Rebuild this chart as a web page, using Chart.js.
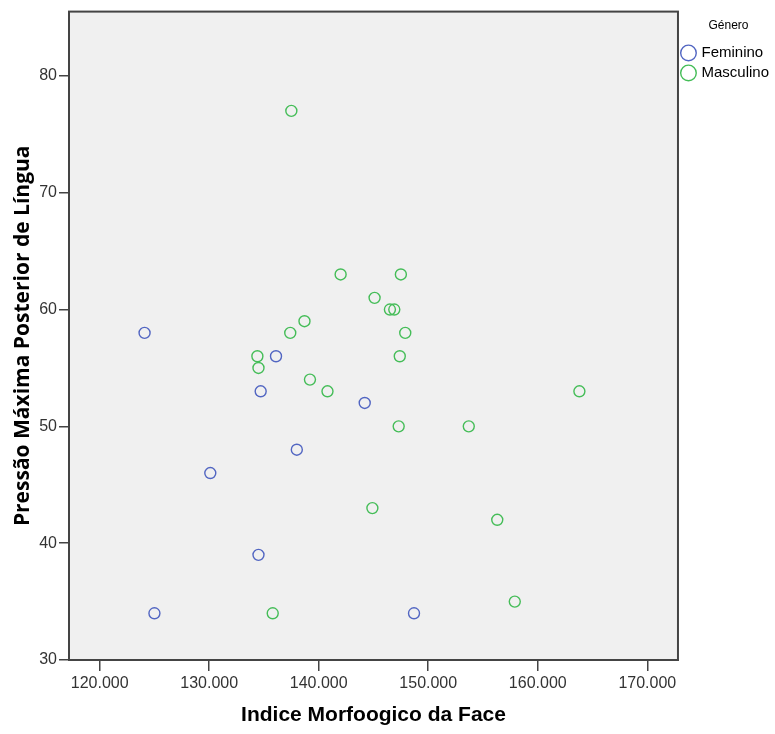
<!DOCTYPE html>
<html>
<head>
<meta charset="utf-8">
<script src="https://cdn.jsdelivr.net/npm/chart.js@4/dist/chart.umd.min.js"></script>
<style>
  body { margin: 0; background: #fff; }
</style>
</head>
<body>
<canvas id="scatterChart" width="775" height="734"></canvas>
<script>
// Feminino
const femIndice = [124.1, 136.1, 134.7, 144.2, 138.0, 130.1, 134.5, 125.0, 148.7];
const femPressao = [58, 56, 53, 52, 48, 46, 39, 34, 34];
// Masculino
const mascIndice = [137.5, 142.0, 147.5, 145.1, 146.5, 146.9, 138.7, 137.4, 147.9, 134.4,
                    147.4, 134.5, 139.2, 140.8, 163.8, 147.3, 153.7, 144.9, 156.3, 157.9, 135.8];
const mascPressao = [77, 63, 63, 61, 60, 60, 59, 58, 58, 56,
                     56, 55, 54, 53, 53, 50, 50, 43, 42, 35, 34];
const xTicks = [120, 130, 140, 150, 160, 170];
const yTicks = [30, 40, 50, 60, 70, 80];

const toPoints = (xs, ys) => xs.map((x, i) => ({ x: x, y: ys[i] }));

// fundo cinza + moldura da area do grafico
const frame = {
  id: 'frame',
  beforeDatasetsDraw(chart) {
    const { ctx, chartArea: a } = chart;
    ctx.save();
    ctx.fillStyle = '#f0f0f0';
    ctx.fillRect(a.left, a.top, a.right - a.left, a.bottom - a.top);
    ctx.restore();
  },
  afterDraw(chart) {
    const { ctx, chartArea: a } = chart;
    ctx.save();
    ctx.strokeStyle = '#444';
    ctx.lineWidth = 2;
    ctx.strokeRect(a.left, a.top, a.right - a.left, a.bottom - a.top);
    ctx.restore();
  }
};

const ctx = document.getElementById('scatterChart').getContext('2d');
new Chart(ctx, {
  type: 'scatter',
  data: {
    datasets: [{
      label: 'Feminino',
      data: toPoints(femIndice, femPressao),
      borderColor: '#5266c2',
      backgroundColor: 'rgba(0,0,0,0)',
      borderWidth: 1.4,
      pointRadius: 5.5,
      pointHoverRadius: 5.5
    }, {
      label: 'Masculino',
      data: toPoints(mascIndice, mascPressao),
      borderColor: '#45bd58',
      backgroundColor: 'rgba(0,0,0,0)',
      borderWidth: 1.4,
      pointRadius: 5.5,
      pointHoverRadius: 5.5
    }]
  },
  options: {
    responsive: false,
    animation: false,
    layout: { padding: { top: 10, left: 0, right: -4, bottom: 0 } },
    plugins: {
      tooltip: { enabled: false },
      legend: {
        position: 'right',
        align: 'start',
        title: {
          display: true,
          text: 'Género',
          color: '#000',
          font: { family: 'Liberation Sans, Arial', size: 12 },
          padding: { top: 10, bottom: 6 }
        },
        labels: {
          usePointStyle: true,
          pointStyle: 'circle',
          boxWidth: 11,
          boxHeight: 11,
          padding: 5,
          color: '#000',
          font: { family: 'Liberation Sans, Arial', size: 15 }
        }
      }
    },
    scales: {
      x: {
        type: 'linear',
        min: 117.2,
        max: 172.8,
        afterBuildTicks: s => { s.ticks = xTicks.map(v => ({ value: v })); },
        afterFit: s => { s.height = 74; },
        ticks: {
          color: '#333',
          padding: 3,
          font: { family: 'Liberation Sans, Arial', size: 16 },
          callback: v => v.toFixed(3)
        },
        grid: { drawOnChartArea: false, tickLength: 11, color: '#444', lineWidth: 1.5 },
        border: { display: true, color: '#444', width: 2 },
        title: {
          display: true,
          text: 'Indice Morfoogico da Face',
          color: '#000',
          font: { family: 'Liberation Sans, Arial', size: 21, weight: 'bold' },
          padding: { top: 0, bottom: 6 }
        }
      },
      y: {
        type: 'linear',
        min: 30,
        max: 85.5,
        afterBuildTicks: s => { s.ticks = yTicks.map(v => ({ value: v })); },
        afterFit: s => { s.width = 69; },
        ticks: {
          color: '#333',
          padding: 2,
          font: { family: 'Liberation Sans, Arial', size: 16 }
        },
        grid: { drawOnChartArea: false, tickLength: 10, color: '#444', lineWidth: 1.5 },
        border: { display: true, color: '#444', width: 2 },
        title: {
          display: true,
          text: 'Pressão Máxima Posterior de Língua',
          color: '#000',
          font: { family: 'Open Sans, Liberation Sans', size: 21, weight: 'bold' },
          padding: { top: 10, bottom: 0 }
        }
      }
    }
  },
  plugins: [frame]
});
</script>
</body>
</html>
